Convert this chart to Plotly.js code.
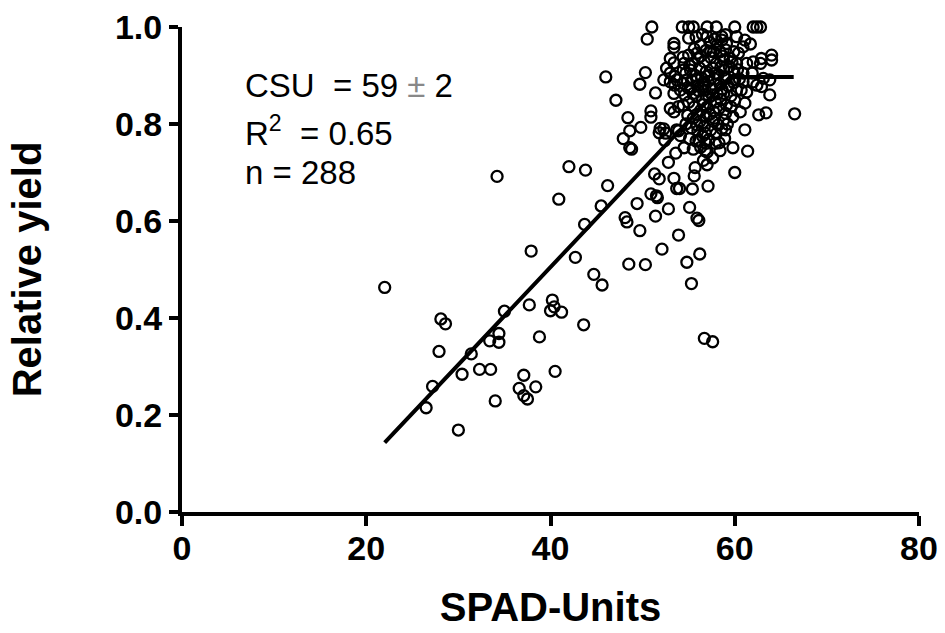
<!DOCTYPE html>
<html>
<head>
<meta charset="utf-8">
<script src="https://cdn.plot.ly/plotly-3.0.1.min.js"></script>
<style>html,body{margin:0;padding:0;background:#fff;}#chart{width:945px;height:633px;}</style>
</head>
<body>
<div id="chart"></div>
<script>
// SPAD readings (x) and relative yield (y)
const spadUnits = [
22.0,30.0,26.5,27.2,34.0,27.9,28.1,28.6,30.4,31.4,32.3,33.5,33.4,34.4,34.4,35.0,34.2,36.6,37.1,37.1,
37.5,38.4,38.8,37.7,37.9,40.5,40.2,40.4,40.0,41.2,43.6,42.7,44.7,45.6,48.5,50.3,40.9,42.0,43.8,43.7,
45.5,46.2,54.8,56.2,52.1,55.3,56.7,57.6,49.7,53.9,48.1,48.3,51.4,55.9,56.1,49.4,52.8,55.1,50.9,51.5,
51.6,53.7,54.0,55.4,57.1,51.3,51.8,53.4,55.6,52.8,55.7,57.0,60.0,53.6,54.5,55.5,56.8,59.8,61.4,48.6,
48.8,47.9,48.6,49.8,48.4,51.8,52.3,52.4,53.9,54.1,56.1,58.3,61.1,59.0,56.8,55.9,62.6,63.4,66.5,63.8,
64.0,64.0,51.0,54.3,55.0,55.5,57.0,58.0,60.0,62.0,62.4,62.8,50.5,55.0,46.0,50.3,49.7,47.1,51.4,50.9,
50.9,
53.4,53.4,58.6,58.1,57.7,58.4,53.0,53.4,54.4,55.0,55.9,52.6,53.0,53.5,54.4,55.2,52.3,53.0,53.7,54.8,55.9,
59.0,58.6,59.1,60.2,61.1,61.7,60.9,59.0,59.9,60.4,58.8,59.5,62.9,62.8,60.2,61.3,62.0,58.8,59.9,60.9,
61.9,63.1,63.8,59.1,60.0,60.9,62.0,
53.4,54.1,53.5,54.4,55.5,56.6,53.0,53.4,53.9,54.4,51.9,52.5,53.7,
59.0,58.8,60.0,61.1,60.6,59.1,58.8,60.2,61.3,62.4,62.9,
55.6,56.3,56.9,57.3,56.0,56.7,57.4,58.0,55.4,56.2,
56.9,57.6,58.2,58.5,55.7,56.4,57.1,57.8,58.4,56.0,
56.8,57.5,58.1,55.2,55.8,56.5,57.2,57.9,58.5,55.0,
55.6,56.3,57.0,57.7,58.3,54.9,55.5,56.2,56.9,57.6,
58.2,54.7,55.3,56.0,56.7,57.4,58.0,55.1,55.8,56.5,
57.2,57.9,56.3,57.0,57.6,56.6,54.6,54.9,55.3,54.7,
55.1,54.5,57.0,57.8,56.5,55.8,58.9,59.3,59.6,59.4,
59.7,60.3,60.5,59.9,60.7,59.6,59.8,58.6,59.2,58.9,
57.3,56.6,57.6,56.1,57.2,56.6,57.9,58.6,58.7,57.4,
56.3,55.9,57.8,56.9,58.4
];
const relativeYield = [
0.463,0.169,0.215,0.259,0.229,0.331,0.398,0.388,0.284,0.326,0.294,0.294,0.353,0.368,0.350,0.414,0.692,0.255,0.282,0.240,
0.233,0.258,0.361,0.427,0.538,0.290,0.437,0.423,0.415,0.412,0.386,0.525,0.490,0.468,0.511,0.510,0.645,0.712,0.705,0.593,
0.631,0.673,0.515,0.532,0.542,0.471,0.358,0.351,0.580,0.571,0.607,0.598,0.610,0.606,0.601,0.636,0.625,0.628,0.656,0.652,
0.648,0.667,0.667,0.666,0.672,0.697,0.687,0.688,0.693,0.721,0.710,0.716,0.700,0.740,0.751,0.748,0.745,0.751,0.744,0.751,
0.748,0.770,0.786,0.793,0.813,0.782,0.790,0.766,0.786,0.776,0.766,0.761,0.788,0.788,0.781,0.798,0.819,0.823,0.821,0.860,
0.942,0.932,1.0,1.0,1.0,1.0,1.0,1.0,1.0,1.0,1.0,1.0,0.975,0.977,0.897,0.906,0.882,0.849,0.864,0.827,
0.814,
0.966,0.958,0.980,0.963,0.949,0.949,0.935,0.926,0.938,0.942,0.946,0.915,0.905,0.898,0.911,0.911,0.891,0.887,0.891,0.891,0.891,
0.984,0.973,0.966,0.980,0.973,0.965,0.959,0.953,0.949,0.946,0.932,0.935,0.935,0.925,0.925,0.925,0.928,0.911,0.908,0.905,
0.905,0.894,0.891,0.894,0.891,0.887,0.887,
0.863,0.870,0.880,0.884,0.863,0.877,0.832,0.825,0.836,0.839,0.791,0.781,0.788,
0.822,0.808,0.849,0.843,0.825,0.839,0.863,0.870,0.866,0.880,0.877,
0.955,0.962,0.952,0.968,0.935,0.928,0.937,0.925,0.925,0.915,
0.908,0.915,0.902,0.918,0.900,0.895,0.888,0.893,0.882,0.878,
0.870,0.872,0.862,0.872,0.858,0.850,0.855,0.845,0.850,0.845,
0.835,0.828,0.835,0.826,0.832,0.818,0.812,0.805,0.815,0.806,
0.798,0.800,0.792,0.786,0.795,0.788,0.780,0.770,0.765,0.775,
0.768,0.760,0.752,0.742,0.730,0.725,0.860,0.875,0.890,0.905,
0.920,0.925,0.980,0.975,0.985,0.980,0.895,0.878,0.858,0.918,
0.928,0.912,0.893,0.885,0.870,0.835,0.815,0.790,0.800,0.770,
0.820,0.840,0.860,0.868,0.900,0.882,0.905,0.872,0.940,0.950,
0.940,0.820,0.812,0.760,0.745
];
// Linear-plateau fit (critical SPAD value = 59)
const fitX = [22.0, 59.5, 66.4];
const fitY = [0.143, 0.897, 0.897];

const xTicks = [0, 20, 40, 60, 80];
const yTicks = [0, 0.2, 0.4, 0.6, 0.8, 1.0];
const yTickText = ['0.0', '0.2', '0.4', '0.6', '0.8', '1.0'];

const F = '"Liberation Sans", Arial, sans-serif';

const traces = [
  {
    x: spadUnits, y: relativeYield, type: 'scatter', mode: 'markers',
    marker: {symbol: 'circle-open', size: 11, color: '#000', line: {width: 2.3, color: '#000'}},
    cliponaxis: false, hoverinfo: 'x+y'
  },
  {
    x: fitX, y: fitY, type: 'scatter', mode: 'lines',
    line: {color: '#000', width: 4}, cliponaxis: false, hoverinfo: 'skip'
  }
];

const axisCommon = {
  showgrid: false, zeroline: false, showline: true, linecolor: '#000', linewidth: 4,
  ticks: 'outside', tickcolor: '#000', tickwidth: 4,
  tickfont: {family: F, size: 34, color: '#000', weight: 700},
  fixedrange: true
};

const layout = {
  width: 945, height: 633,
  margin: {l: 182, r: 26, t: 27, b: 121},
  paper_bgcolor: '#fff', plot_bgcolor: '#fff',
  showlegend: false,
  xaxis: Object.assign({}, axisCommon, {
    range: [0, 80], tickvals: xTicks, ticklen: 10, ticklabelstandoff: -7,
    title: {text: 'SPAD-Units', font: {family: F, size: 40, color: '#000', weight: 700}, standoff: 28}
  }),
  yaxis: Object.assign({}, axisCommon, {
    range: [0, 1], tickvals: yTicks, ticktext: yTickText, ticklen: 9,
    title: {text: 'Relative yield', font: {family: F, size: 40, color: '#000', weight: 700}, standoff: 62}
  }),
  annotations: [
    {xref: 'x', yref: 'y', x: 6.6, y: 0.88, xanchor: 'left', yanchor: 'middle', showarrow: false,
     text: 'CSU  = 59 <span style="color:#888">±</span> 2', font: {family: F, size: 33, color: '#000'}},
    {xref: 'x', yref: 'y', x: 6.6, y: 0.785, xanchor: 'left', yanchor: 'middle', showarrow: false,
     text: 'R<sup>2</sup>  = 0.65', font: {family: F, size: 33, color: '#000'}},
    {xref: 'x', yref: 'y', x: 6.6, y: 0.70, xanchor: 'left', yanchor: 'middle', showarrow: false,
     text: 'n = 288', font: {family: F, size: 33, color: '#000'}}
  ]
};

Plotly.newPlot('chart', traces, layout, {displayModeBar: false, staticPlot: true});
</script>
</body>
</html>
